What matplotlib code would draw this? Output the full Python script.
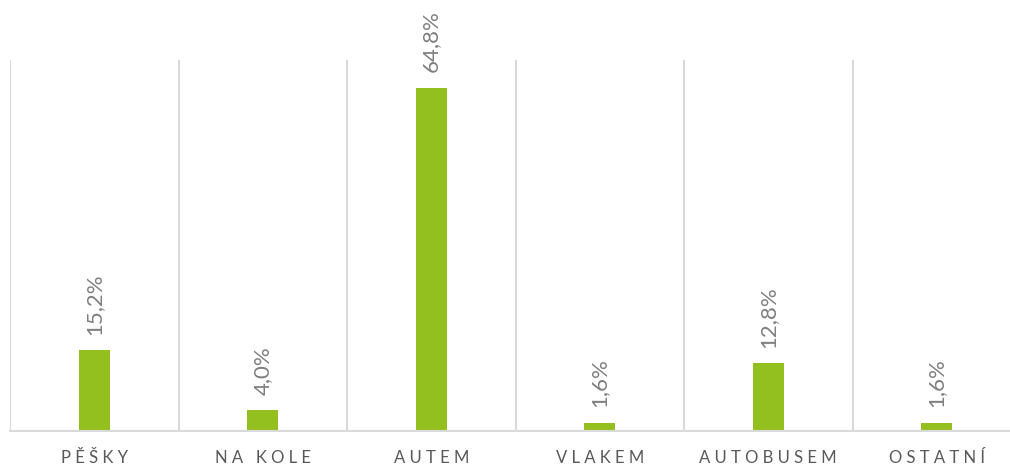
import matplotlib
matplotlib.use("Agg")
import matplotlib.pyplot as plt

categories = ["PĚŠKY", "NA KOLE", "AUTEM", "VLAKEM", "AUTOBUSEM", "OSTATNÍ"]
values = [15.2, 4.0, 64.8, 1.6, 12.8, 1.6]
value_labels = ["15,2%", "4,0%", "64,8%", "1,6%", "12,8%", "1,6%"]

plt.rcParams['font.family'] = ['Lato', 'DejaVu Sans']

fig = plt.figure(figsize=(10.1, 4.7), dpi=100)
left = 10 / 1010
right = 1021 / 1010
bottom = (470 - 431) / 470
top = (470 - 60) / 470
ax = fig.add_axes([left, bottom, right - left, top - bottom])

x = list(range(len(categories)))
ax.bar(x, values, width=0.185, color="#93C01F", zorder=3)
ax.set_xlim(-0.5, len(categories) - 0.5)
ax.set_ylim(0, 70)

for b in [i - 0.5 for i in range(len(categories) + 1)]:
    ax.axvline(b, color="#d9d9d9", linewidth=1.5, zorder=1)

for xi, v, lab in zip(x, values, value_labels):
    ax.annotate(lab, (xi, v), xytext=(0, 11), textcoords="offset points",
                rotation=90, ha="center", va="bottom", fontsize=16,
                color="#7f7f7f")

def spaced(s):
    return "   ".join(" ".join(w) for w in s.split(" "))

ax.set_xticks(x)
ax.set_xticklabels([spaced(c) for c in categories], fontsize=12, color="#595959")
ax.tick_params(axis="x", length=0, pad=14)
ax.set_yticks([])
for s in ["top", "left", "right"]:
    ax.spines[s].set_visible(False)
ax.spines["bottom"].set_color("#d9d9d9")
ax.spines["bottom"].set_linewidth(1.5)
ax.spines["bottom"].set_zorder(4)

fig.savefig("out.png", dpi=100)
